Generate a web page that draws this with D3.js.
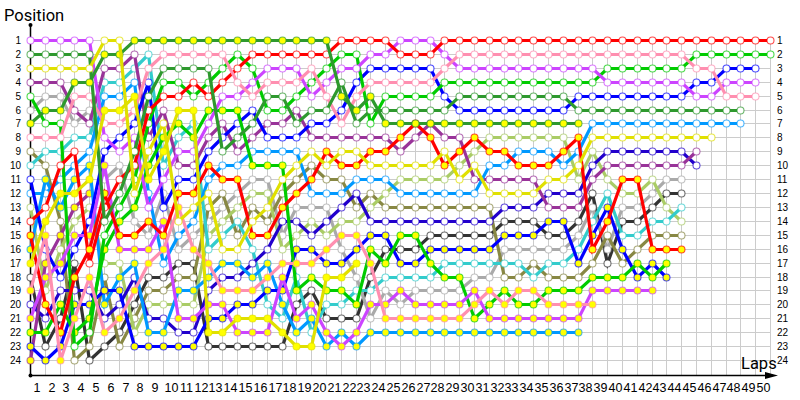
<!DOCTYPE html>
<html>
<head>
<meta charset="utf-8">
<script src="https://cdn.jsdelivr.net/npm/d3@7/dist/d3.min.js"></script>
<style>
	html, body { margin: 0; padding: 0; background: #fff; }
	svg { display: block; }
	text { font-family: "Liberation Sans", sans-serif; fill: #000; }
	.grid line { stroke: #ccc; }
	.grid path { display: none; }
	.tick-labels path, .tick-labels line { display: none; }
	.lap-labels text { font-size: 12.5px; }
	.position-labels text { font-size: 10px; }
	.axis-title { font-family: Roboto, sans-serif; font-size: 16.5px; }
</style>
</head>
<body>
<svg id="viz" width="800" height="400"></svg>
<script>
// race position per lap, first entry is the grid slot
var redHard = [14,13,10,9,17,13,11,10,6,5,5,4,5,4,3,2,2,2,2,2,2,1,1,1,1,2,2,2,1,1,1,1,1,1,1,1,1,1,1,1,1,1,1,1,1,1,1,1,1,1,1];
var redSoft = [15,20,22,18,16,12,15,15,14,15,12,12,10,11,11,15,15,13,12,11,9,10,10,9,9,8,7,8,10,9,8,9,9,10,10,10,9,8,16,14,11,11,16,16,16];
var pinkHard = [8,8,8,5,5,7,7,6,3,2,2,2,2,2,4,5,4,4,4,3,5,7,5,4,4,4,4,4,3,2,2,2,2,2,2,2,2,2,2,2,2,2,2,2,2,3,3,5,5,5];
var pinkSoft = [19,15,24,21,18,22,21,19,17,16,13,16,17,19,19,19,18,17,17,17,16,15,15,17,21,21,21,21,21,21,20,19,20,19,19,20,20,20,20];
var violetHard = [1,1,1,1,1,8,9,8,13,11,9,9,7,5,5,4,3,3,3,5,4,3,3,2,2,1,1,1,2,3,3,3,3,3,3,3,3,3,3,4,4,4,4,4,4,5,5,4,4,4];
var violetSoft = [21,18,17,15,15,10,16,16,16,14,21,21,20,20,22,22,22,18,21,20,22,23,22,20,20,19,20,20,20,20,19,21,21,21,21,21,21,21,19,19,19,19,19];
var greenHard = [5,7,7,23,22,15,13,11,7,4,4,5,4,3,2,3,6,6,5,4,3,2,2,7,5,5,5,5,4,4,4,4,4,4,4,4,4,4,4,3,3,3,3,3,3,2,2,2,2,2,2];
var greenSoft = [22,22,20,22,21,16,14,13,10,8,7,8,6,6,6,10,10,10,19,18,19,19,20,16,17,15,15,17,18,18,21,20,19,20,20,19,19,19,18,18,18,17,18,17];
var forestHard = [2,2,2,2,2,14,12,9,5,3,3,3,3,9,8,7,5,5,7,6,6,4,7,6,6,6,6,6,6,5,5,5,5,5,5,5,5,6,6,6,6,6,6,6,6,6,6,6,6];
var forestSoft = [7,6,6,4,4,2,2,1,1,1,1,1,1,1,1,1,1,1,1,1,1,5,6,5,7,7,7,7,7,7,7,7,7,7,7,7,7,7];
var blueHard = [11,16,18,16,14,9,8,7,4,13,11,11,9,8,7,6,8,8,8,7,7,6,4,3,3,3,3,3,5,6,6,6,6,6,6,6,6,5,5,5,5,5,5,5,5,4,4,3,3,3];
var blueSoft = [23,24,23,20,20,19,19,23,23,23,23,23,21,21,20,20,19,19,16,16,17,17,16,15,15,17,17,16,16,16,16,16,15,15,15,14,14,17,15,13,16,18,17,18];
var skyHard = [12,12,11,10,9,5,5,4,12,17,15,14,11,10,10,9,9,9,9,12,12,12,11,11,11,12,12,12,12,12,12,10,10,9,9,9,10,9,7,7,7,7,7,7,7,7,7,7,7];
var skySoft = [16,11,13,11,10,20,18,17,22,22,19,19,18,17,17,18,17,20,22,21,23,22,23,22,22,22,22,22,22,22,22,22,22,22,22,22,22,22];
var yellowHard = [3,3,3,3,3,1,1,12,9,7,14,13,12,16,16,14,13,11,10,9,10,9,9,10,10,10,10,10,9,11,10,12,12,12,12,11,11,10,8,8,8,8,8,8,8,8,8];
var yellowSoft = [17,14,12,12,11,6,6,5,11,9,6,6,22,22,21,21,21,22,23,23,18,18,17];
var limeHard = [13,19,16,14,13,17,17,22,20,20,20,20,15,14,13,12,12,16,15,14,15,14,14,13,12,11,11,11,11,10,9,8,8,8,8,8,8,11,9,11,12,12,11,13,14];
var purpleHard = [4,4,4,6,7,3,3,2,8,6,10,10,8,7,9,8,7,7,6,8,8,8,8,8,8,9,8,7,8,8,11,11,11,11,11,13,13,13,11,10,10,10,10,10,10,9];
var purpleSoft = [24,17,15,13,12];
var navyHard = [20,21,19,19,19,21,20,18,21,21,22,22,19,18,18,17,16,14,14,15,14,13,12,14,14,14,14,14,14,14,14,14,13,13,13,12,12,12,10,9,9,9,9,9,9,10];
var oliveHard = [9,10,14,24,23,18,23,21,19,19,18,18,13,12,15,13,14,12,11,10,11,11,13,12,13,13,13,13,13,13,13,13,18,18,17,18,18,18,17,15,17,16,15,15,15];
var cyanHard = [10,9,9,8,8,4,4,3,2,10,8,7,16,15,14,16,20,21,18,22,20,20,19,19,18,18,18,18,17,17,17,17,17,17,18,17,17,16,14,12,15,15,14,14,13];
var grayHard = [6,5,5,7,6,11,10,14,15,12,16,15,14,13,12,11,11,15,13,13,13,16,18,21,19,20,19,19,19,19,18,18,16,16,16,16,16,15,13,16,13,13,12,11,11];
var darkHard = [18,23,21,17,24,23,22,20,18,18,17,17,23,23,23,23,23,23,20,19,21,21,21,18,16,16,16,15,15,15,15,15,14,14,14,15,15,14,12,17,14,14,13,12,12];

var lapLabels = d3.range( 1, 51 );
var positionLabels = d3.range( 1, 25 );

// draw order, later ones end up on top
var drivers = [
	{ laps: darkHard, color: '#333333', soft: false },
	{ laps: grayHard, color: '#aaaaaa', soft: false },
	{ laps: oliveHard, color: '#888844', soft: false },
	{ laps: limeHard, color: '#aacc66', soft: false },
	{ laps: cyanHard, color: '#33cccc', soft: false },
	{ laps: navyHard, color: '#2200cc', soft: false },
	{ laps: purpleSoft, color: '#993399', soft: true },
	{ laps: purpleHard, color: '#993399', soft: false },
	{ laps: skyHard, color: '#0099ff', soft: false },
	{ laps: skySoft, color: '#0099ff', soft: true },
	{ laps: blueSoft, color: '#0000ff', soft: true },
	{ laps: blueHard, color: '#0000ff', soft: false },
	{ laps: greenSoft, color: '#00cc00', soft: true },
	{ laps: greenHard, color: '#00cc00', soft: false },
	{ laps: violetSoft, color: '#cc44ff', soft: true },
	{ laps: violetHard, color: '#cc44ff', soft: false },
	{ laps: redHard, color: '#ff0000', soft: false },
	{ laps: redSoft, color: '#ff0000', soft: true },
	{ laps: pinkHard, color: '#ff8fb0', soft: false },
	{ laps: pinkSoft, color: '#ff8fb0', soft: true },
	{ laps: forestHard, color: '#2e992e', soft: false },
	{ laps: forestSoft, color: '#2e992e', soft: true },
	{ laps: yellowHard, color: '#e0e000', soft: false },
	{ laps: yellowSoft, color: '#e0e000', soft: true }
];

var svg = d3.select( '#viz' );

var xScale = d3.scaleLinear().domain( [ 0, 50 ] ).rangeRound( [ 30, 770 ] );
var yScale = d3.scaleLinear().domain( [ 1, 24 ] ).rangeRound( [ 40, 360 ] );

// grid
svg.append( 'g' )
	.attr( 'class', 'grid' )
	.attr( 'transform', 'translate(0,375)' )
	.call( d3.axisBottom( xScale ).tickValues( d3.range( 0, 51 ) ).tickSize( -335 ).tickFormat( '' ) );
svg.append( 'g' )
	.attr( 'class', 'grid' )
	.attr( 'transform', 'translate(30,0)' )
	.call( d3.axisLeft( yScale ).tickValues( positionLabels ).tickSize( -740 ).tickFormat( '' ) );

// tick labels
var lapAxis = svg.append( 'g' )
	.attr( 'class', 'tick-labels lap-labels' )
	.attr( 'transform', 'translate(-7,375)' )
	.call( d3.axisBottom( xScale ).tickValues( lapLabels ).tickSize( 0 ).tickPadding( 8 ).tickFormat( d3.format( 'd' ) ) );
lapAxis.selectAll( 'text' ).attr( 'dx', function ( d ) { return d < 10 ? -1.5 : 0; } );
svg.append( 'g' )
	.attr( 'class', 'tick-labels position-labels' )
	.attr( 'transform', 'translate(21,0)' )
	.call( d3.axisLeft( yScale ).tickValues( positionLabels ).tickSize( 0 ).tickPadding( 0 ).tickFormat( d3.format( 'd' ) ) );
svg.append( 'g' )
	.attr( 'class', 'tick-labels position-labels' )
	.attr( 'transform', 'translate(777,0)' )
	.call( d3.axisRight( yScale ).tickValues( positionLabels ).tickSize( 0 ).tickPadding( 0 ).tickFormat( d3.format( 'd' ) ) );

// axis lines
svg.append( 'line' ).attr( 'x1', 30.5 ).attr( 'x2', 30.5 ).attr( 'y1', 25 ).attr( 'y2', 375 ).attr( 'stroke', '#000' ).attr( 'stroke-width', 1.5 );
svg.append( 'line' ).attr( 'x1', 30 ).attr( 'x2', 770 ).attr( 'y1', 375.5 ).attr( 'y2', 375.5 ).attr( 'stroke', '#000' ).attr( 'stroke-width', 1.5 );
svg.append( 'circle' ).attr( 'cx', 30.5 ).attr( 'cy', 25 ).attr( 'r', 2 ).attr( 'fill', '#000' );
svg.append( 'circle' ).attr( 'cx', 30.5 ).attr( 'cy', 375.5 ).attr( 'r', 2 ).attr( 'fill', '#000' );
svg.append( 'path' ).attr( 'd', 'M765,372L778,375.5L765,379Z' ).attr( 'fill', '#000' );

svg.append( 'text' ).attr( 'class', 'axis-title' ).attr( 'x', 4 ).attr( 'y', 21 ).text( 'Position' );
svg.append( 'text' ).attr( 'class', 'axis-title' ).attr( 'x', 741 ).attr( 'y', 369 ).text( 'Laps' );

var line = d3.line()
	.x( function ( d, i ) { return xScale( i ) + 0.5; } )
	.y( function ( d ) { return yScale( d ) + 0.5; } );

drivers.forEach( function ( driver ) {
	var g = svg.append( 'g' );
	g.append( 'path' )
		.attr( 'd', line( driver.laps ) )
		.attr( 'fill', 'none' )
		.attr( 'stroke', driver.color )
		.attr( 'stroke-width', 3.2 );
	g.selectAll( 'circle' )
		.data( driver.laps )
		.enter()
		.append( 'circle' )
		.attr( 'cx', function ( d, i ) { return xScale( i ) + 0.5; } )
		.attr( 'cy', function ( d ) { return yScale( d ) + 0.5; } )
		.attr( 'r', 3.5 )
		.attr( 'fill', driver.soft ? '#ffff00' : '#fff' )
		.attr( 'stroke', driver.color )
		.attr( 'stroke-opacity', 0.7 )
		.attr( 'stroke-width', 1.1 );
} );
</script>
</body>
</html>
